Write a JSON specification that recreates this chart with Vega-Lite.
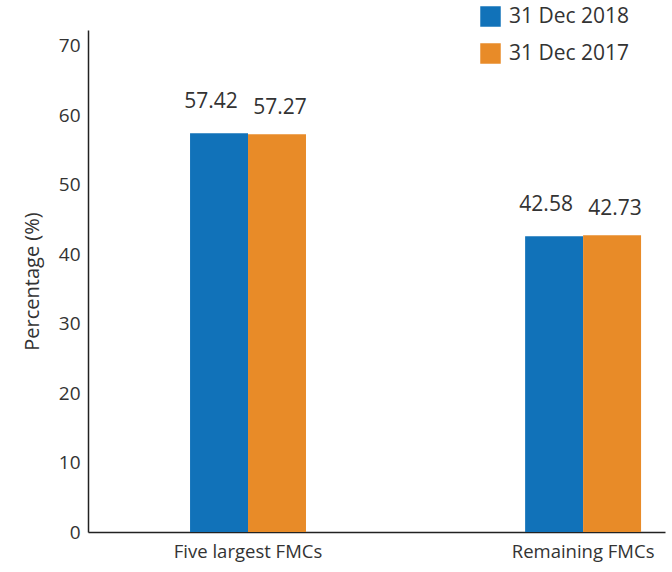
{
  "$schema": "https://vega.github.io/schema/vega-lite/v6.json",
  "width": 577,
  "height": 502,
  "autosize": {"type": "none"},
  "padding": {"left": 88, "top": 30, "right": 7, "bottom": 40},
  "background": "white",
  "config": {
    "view": {"stroke": null},
    "font": "Open Sans",
    "axis": {"labelFont": "Open Sans", "titleFont": "Open Sans", "labelColor": "#333333", "titleColor": "#333333", "labelFontSize": 19, "titleFontSize": 20, "titleFontWeight": "normal", "domainColor": "#222222", "domainWidth": 1.5, "ticks": false, "grid": false}
  },
  "data": {
    "values": [
      {"category": "Five largest FMCs", "series": "31 Dec 2018", "value": 57.42},
      {"category": "Five largest FMCs", "series": "31 Dec 2017", "value": 57.27},
      {"category": "Remaining FMCs", "series": "31 Dec 2018", "value": 42.58},
      {"category": "Remaining FMCs", "series": "31 Dec 2017", "value": 42.73}
    ]
  },
  "encoding": {
    "x": {
      "field": "category", "type": "nominal", "sort": null,
      "scale": {"paddingInner": 0.654, "paddingOuter": 0.188, "align": 0.81},
      "axis": {"title": null, "labelAngle": 0, "labelPadding": 10, "labelFontSize": 18.5}
    },
    "xOffset": {"field": "series", "type": "nominal", "sort": ["31 Dec 2018", "31 Dec 2017"], "scale": {"paddingInner": 0, "paddingOuter": 0}},
    "y": {
      "field": "value", "type": "quantitative",
      "scale": {"domain": [0, 72.3], "nice": false},
      "axis": {"title": "Percentage (%)", "values": [0, 10, 20, 30, 40, 50, 60, 70], "labelPadding": 8, "titlePadding": 16}
    }
  },
  "layer": [
    {
      "mark": {"type": "bar"},
      "encoding": {
        "color": {
          "field": "series", "type": "nominal", "sort": ["31 Dec 2018", "31 Dec 2017"],
          "scale": {"domain": ["31 Dec 2018", "31 Dec 2017"], "range": ["#1172b9", "#e88b28"]},
          "legend": {"title": null, "orient": "none", "legendX": 392, "legendY": -24, "symbolType": "square", "symbolSize": 420, "symbolStrokeWidth": 0, "labelFontSize": 21, "labelFont": "Open Sans", "labelColor": "#333333", "rowPadding": 15, "labelOffset": 8}
        }
      }
    },
    {
      "transform": [{"filter": "datum.series === '31 Dec 2018'"}],
      "mark": {"type": "text", "baseline": "bottom", "dy": -21, "dx": -8, "fontSize": 21, "color": "#333333", "font": "Open Sans"},
      "encoding": {"text": {"field": "value", "type": "quantitative", "format": ".2f"}}
    },
    {
      "transform": [{"filter": "datum.series === '31 Dec 2017'"}],
      "mark": {"type": "text", "baseline": "bottom", "dy": -16, "dx": 3, "fontSize": 21, "color": "#333333", "font": "Open Sans"},
      "encoding": {"text": {"field": "value", "type": "quantitative", "format": ".2f"}}
    }
  ]
}
